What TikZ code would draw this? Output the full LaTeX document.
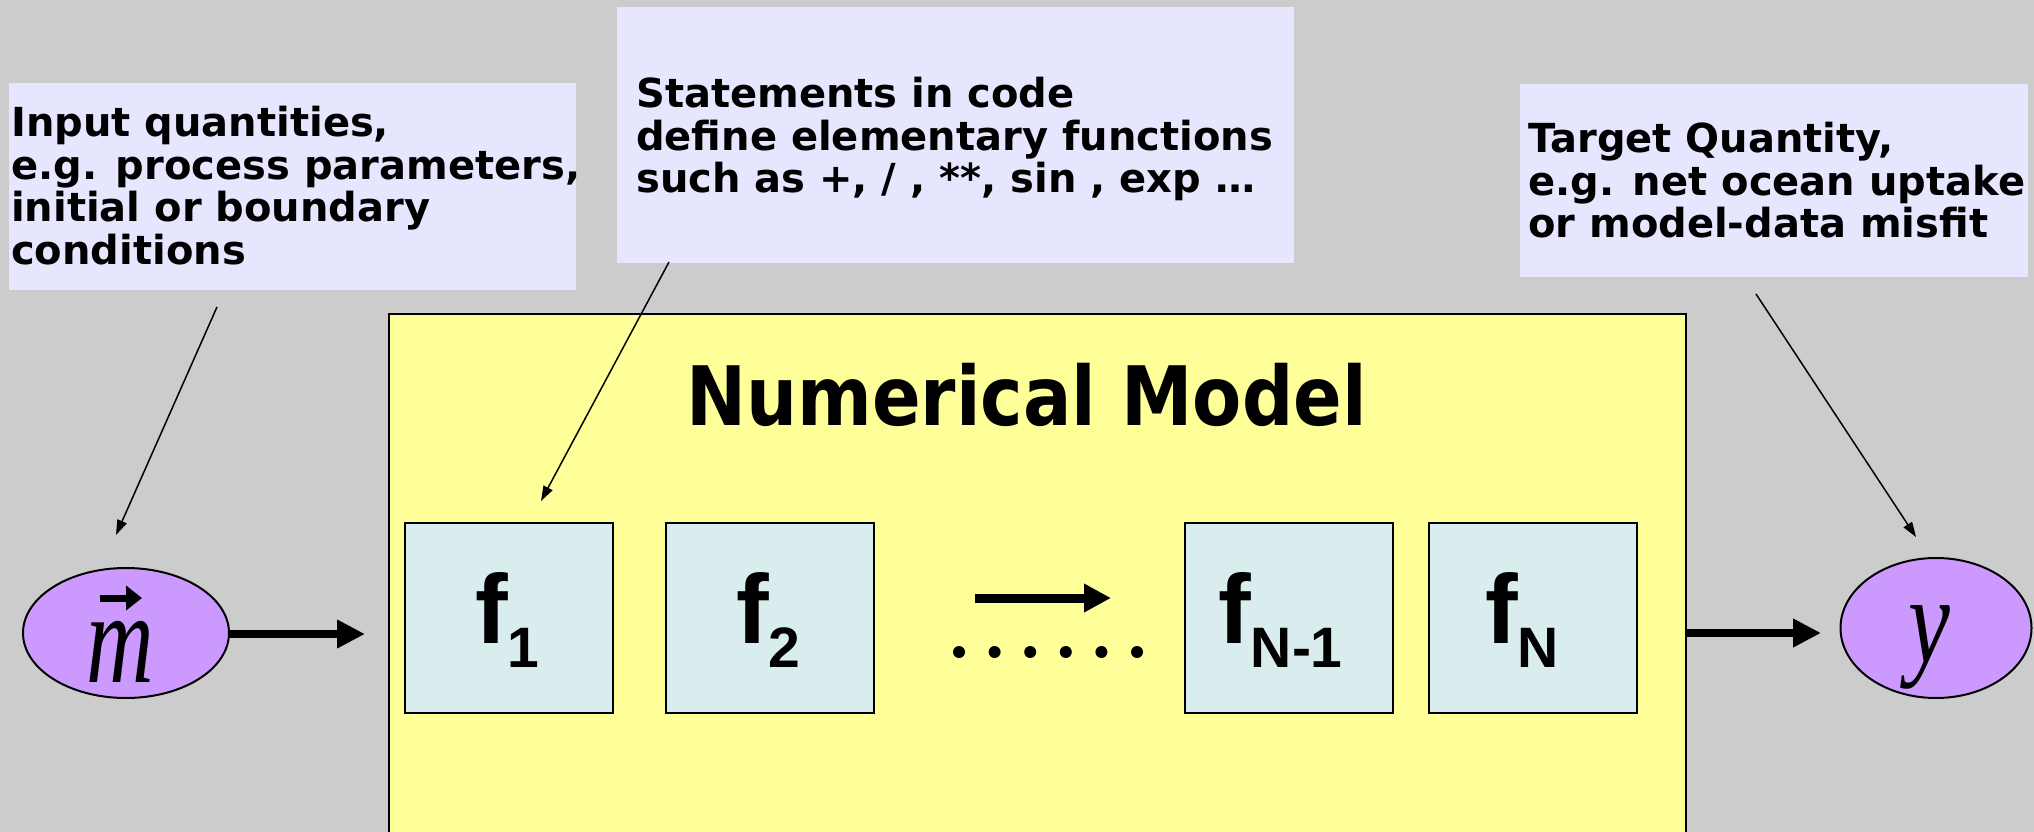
\documentclass[tikz,border=0pt]{standalone}
\usepackage{graphicx}
\usepackage{fontspec}
\setmainfont{DejaVu Sans}
\newfontfamily\arialf{Liberation Sans}
\newfontfamily\timesf{Liberation Serif}
\usetikzlibrary{arrows.meta,shapes.geometric}
\definecolor{bgc}{HTML}{CCCCCC}
\definecolor{lav}{HTML}{E6E6FF}
\definecolor{yel}{HTML}{FFFF99}
\definecolor{fblue}{HTML}{D9ECEE}
\definecolor{purp}{HTML}{CC99FF}
\begin{document}
\begin{tikzpicture}[x=1pt,y=-1pt,
  callout/.style={fill=lav, draw=none, inner sep=0, anchor=north west},
  ctext/.style={inner sep=0, anchor=north west, align=left, font=\fontsize{40}{42.5}\selectfont\bfseries},
  fbox/.style={draw=black, line width=2pt, fill=fblue, minimum width=208pt, minimum height=190pt, inner sep=0, anchor=north west},
  flabel/.style={inner sep=0, anchor=base west, font=\arialf\bfseries},
  ell/.style={ellipse, draw=black, line width=2pt, fill=purp, inner sep=0},
  bigarrow/.style={line width=8.5pt, -{Triangle[length=28pt,width=27pt]}},
  thinarrow/.style={line width=1.5pt, -{Triangle[length=15pt,width=10pt]}},
  vecarrow/.style={line width=7pt, -{Triangle[length=16pt,width=24pt]}}
]
\useasboundingbox (0,0) rectangle (2034,832);
\fill[bgc] (0,0) rectangle (2034,832);

% callout boxes
\node[callout, minimum width=567pt, minimum height=207pt] (inbox) at (9,83) {};
\node[callout, minimum width=677pt, minimum height=256pt] (stbox) at (617,7) {};
\node[callout, minimum width=508pt, minimum height=193pt] (tgbox) at (1520,84) {};

\node[ctext] (intext) at (11,106) {Input quantities,\\e.g. process parameters,\\initial or boundary\\conditions};
\node[ctext] (sttext) at (636,77) {Statements in code\\define elementary functions\\such as +, / , **, sin , exp …};
\node[ctext] (tgtext) at (1528,122) {Target Quantity,\\e.g. net ocean uptake\\or model-data misfit};

% numerical model box
\node[fill=yel, draw=black, line width=2pt, minimum width=1297pt, minimum height=560pt, inner sep=0, anchor=north west] (model) at (388,313) {};
\node[anchor=base, inner sep=0, font=\fontsize{82}{82}\selectfont\bfseries] (title) at (1026.5,425) {\scalebox{0.875}[1]{Numerical Model}};

% function boxes
\node[fbox] (f1) at (404,522) {};
\node[fbox] (f2) at (665,522) {};
\node[fbox] (fn1) at (1184,522) {};
\node[fbox] (fn) at (1428,522) {};

\node[flabel] (f1l) at (475,643) {\fontsize{98}{98}\selectfont f\raisebox{-24pt}{\fontsize{57}{57}\selectfont 1}};
\node[flabel] (f2l) at (736,643) {\fontsize{98}{98}\selectfont f\raisebox{-24pt}{\fontsize{57}{57}\selectfont 2}};
\node[flabel] (fn1l) at (1218,643) {\fontsize{98}{98}\selectfont f\raisebox{-24pt}{\fontsize{57}{57}\selectfont N-1}};
\node[flabel] (fnl) at (1485,643) {\fontsize{98}{98}\selectfont f\raisebox{-24pt}{\fontsize{57}{57}\selectfont N}};

% inner arrow and dots
\coordinate (ia) at (975,598);
\coordinate (ib) at (1111,598);
\draw[line width=9pt, -{Triangle[length=27pt,width=27pt]}] (ia) -- (ib);
\foreach \i in {0,...,5} \fill (959+35.6*\i,652) circle (6pt);

% ellipses
\node[ell, minimum width=206pt, minimum height=130pt] (m) at (126,633) {};
\node[ell, minimum width=191pt, minimum height=140pt] (y) at (1936,628) {};
\node[inner sep=0, anchor=base] (mletter) at (120,682) {\scalebox{0.72}[1]{\fontsize{130}{130}\selectfont\timesf\itshape m}};
\coordinate (va) at (100,598);
\coordinate (vb) at (142,598);
\draw[vecarrow] (va) -- (vb);
\node[inner sep=0, anchor=base] (yletter) at (1929,662) {\scalebox{0.76}[1]{\fontsize{124}{124}\selectfont\timesf\itshape y}};

% big arrows
\coordinate (mtip) at (365,634);
\draw[bigarrow] (m.east |- mtip) -- (mtip);
\coordinate (ystart) at (1686,633);
\coordinate (ytip) at (1821,633);
\draw[bigarrow] (ystart) -- (ytip);

% thin arrows
\coordinate (a1s) at (217,307);
\coordinate (a1e) at (116,535);
\draw[thinarrow] (a1s) -- (a1e);
\coordinate (a2s) at (669,262);
\coordinate (a2e) at (541,501);
\draw[thinarrow] (a2s) -- (a2e);
\coordinate (a3s) at (1756,294);
\coordinate (a3e) at (1916,537);
\draw[thinarrow] (a3s) -- (a3e);
\end{tikzpicture}
\end{document}
